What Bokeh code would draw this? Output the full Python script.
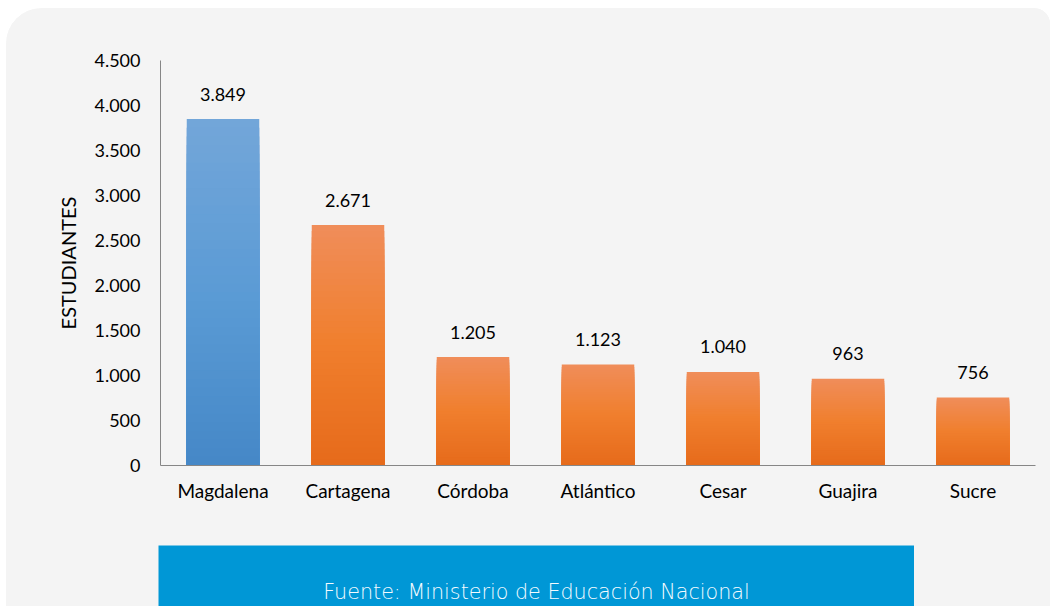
import numpy as np
from bokeh.plotting import figure
from bokeh.layouts import column
from bokeh.models import (ColumnDataSource, FixedTicker, Range1d, FactorRange)
from bokeh.core.properties import value
from bokeh.embed import file_html
from bokeh.resources import INLINE

# ---------------- data ----------------
categories = ["Magdalena", "Cartagena", "Córdoba", "Atlántico", "Cesar", "Guajira", "Sucre"]
students = [3849, 2671, 1205, 1123, 1040, 963, 756]
value_labels = ["3.849", "2.671", "1.205", "1.123", "1.040", "963", "756"]
y_ticks = [0, 500, 1000, 1500, 2000, 2500, 3000, 3500, 4000, 4500]
y_tick_labels = ["0", "500", "1.000", "1.500", "2.000", "2.500", "3.000", "3.500", "4.000", "4.500"]
y_axis_title = "ESTUDIANTES"
source_note = "Fuente: Ministerio de Educación Nacional"
bar_kind = ["blue", "orange", "orange", "orange", "orange", "orange", "orange"]

# ---------------- style ----------------
FONT = "Lato"
NOTE_FONT = "DejaVu Sans Light, DejaVu Sans"
PANEL = "#f4f4f4"
NOTE_BLUE = "#0097d6"
GRADIENTS = {  # (top, middle, bottom)
    "blue": ("#73a6d9", "#5b9bd5", "#4588c7"),
    "orange": ("#f08d5a", "#f07f2d", "#e66a1b"),
}
N_STEPS = 40


def hex2rgb(h):
    h = h.lstrip("#")
    return np.array([int(h[i:i + 2], 16) for i in (0, 2, 4)], dtype=float)


def grad_color(kind, t):
    """t = 0 at bottom, 1 at top"""
    top, mid, bot = (hex2rgb(c) for c in GRADIENTS[kind])
    if t < 0.5:
        c = bot + (mid - bot) * (t / 0.5)
    else:
        c = mid + (top - mid) * ((t - 0.5) / 0.5)
    return "#%02x%02x%02x" % tuple(int(round(v)) for v in c)


# ---------------- main chart ----------------
p = figure(x_range=FactorRange(*categories), y_range=Range1d(0, 4500),
           width=1044, height=537, output_backend="svg", toolbar_location=None,
           min_border_left=154, min_border_right=15, min_border_top=52,
           min_border_bottom=80)
p.frame_align = False
p.background_fill_color = PANEL
p.border_fill_color = PANEL
p.outline_line_color = None
p.xgrid.grid_line_color = None
p.ygrid.grid_line_color = None

# gradient bars: painted from full height downward, each layer overlapping
xs, tops, cols = [], [], []
for k in range(N_STEPS, 0, -1):
    frac = k / N_STEPS
    for cat, val, kind in zip(categories, students, bar_kind):
        xs.append(cat)
        tops.append(val * frac)
        cols.append(grad_color(kind, (k - 0.5) / N_STEPS))
src = ColumnDataSource(dict(x=xs, top=tops, color=cols))
p.vbar(x="x", top="top", bottom=0, width=0.58, fill_color="color",
       line_color=None, source=src)

# value labels
lab_src = ColumnDataSource(dict(x=categories, y=students, t=value_labels))
p.text(x="x", y="y", text="t", source=lab_src, y_offset=-25,
       text_align="center", text_baseline="alphabetic",
       text_font=value(FONT), text_font_size="18px", text_color="#000000")

# axes
p.yaxis.ticker = FixedTicker(ticks=y_ticks)
p.yaxis.major_label_overrides = {t: l for t, l in zip(y_ticks, y_tick_labels)}
for ax in (p.xaxis[0], p.yaxis[0]):
    ax.axis_line_color = "#868686"
    ax.axis_line_width = 1
    ax.major_tick_line_color = None
    ax.minor_tick_line_color = None
    ax.major_tick_out = 0
    ax.major_tick_in = 0
    ax.major_label_text_font = FONT
    ax.major_label_text_color = "#000000"
p.yaxis.major_label_text_font_size = "18px"
p.xaxis.major_label_text_font_size = "19px"
p.yaxis.major_label_standoff = 20
p.xaxis.major_label_standoff = 13
p.yaxis.axis_label = y_axis_title
p.yaxis.axis_label_text_font = FONT
p.yaxis.axis_label_text_font_size = "20px"
p.yaxis.axis_label_text_font_style = "normal"
p.yaxis.axis_label_text_color = "#000000"
p.yaxis.axis_label_standoff = 11

# ---------------- source note box ----------------
q = figure(x_range=Range1d(0, 756), y_range=Range1d(0, 61),
           width=756, height=61, output_backend="svg", toolbar_location=None,
           min_border=0, margin=(0, 0, 0, 152))
q.frame_align = False
q.axis.visible = False
q.grid.visible = False
q.background_fill_color = NOTE_BLUE
q.border_fill_color = NOTE_BLUE
q.outline_line_color = None
q.text(x=[378], y=[15], text=[source_note], text_align="center",
       text_baseline="alphabetic", text_font=value(NOTE_FONT),
       text_font_size="20.7px", text_color="#f4fbff")

layout = column(p, q, spacing=0, margin=(8, 0, 0, 6),
                styles={"background-color": PANEL,
                        "border-top-left-radius": "36px",
                        "border-top-right-radius": "16px",
                        "overflow": "hidden"})

open("out.html", "w").write(file_html(layout, INLINE))
